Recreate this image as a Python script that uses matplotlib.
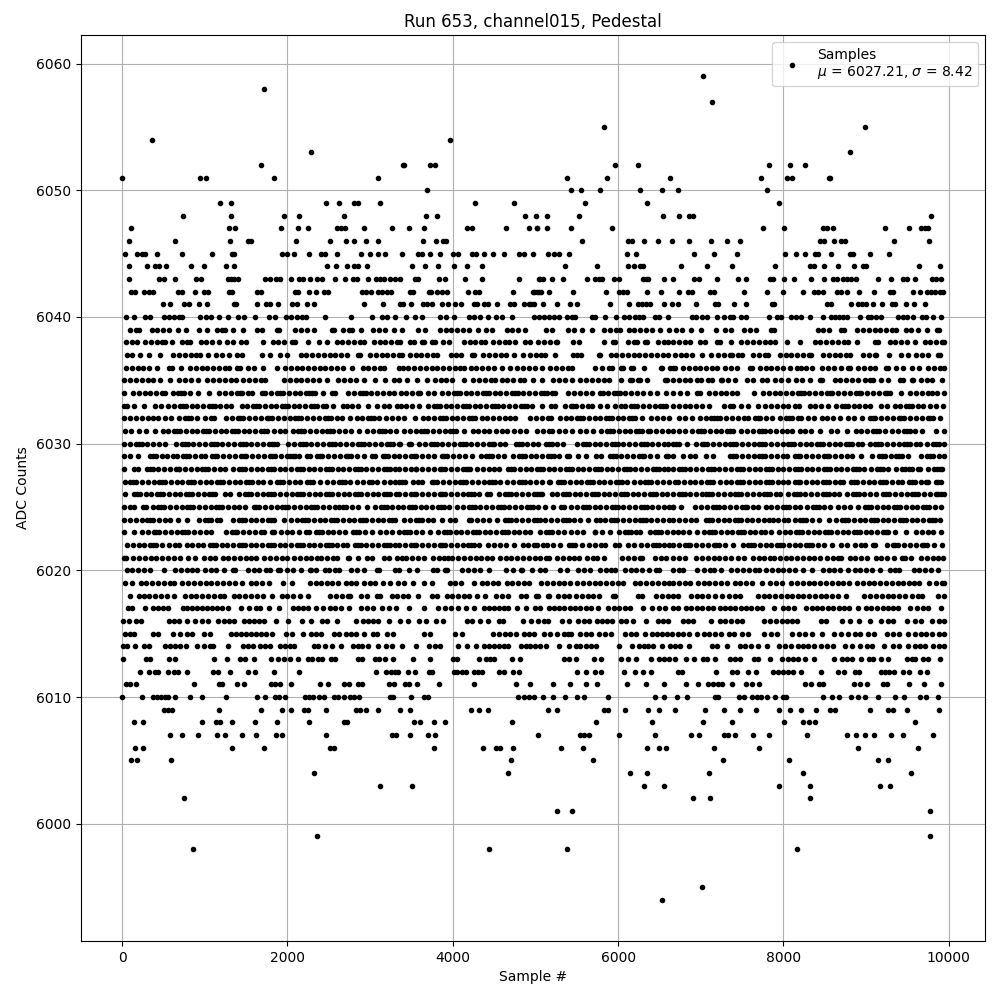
import matplotlib
matplotlib.use("Agg")
import matplotlib.pyplot as plt

# Sample numbers, one list per ADC level
s5994 = [6527]
s5995 = [7010]
s5998 = [862, 4441, 5380, 8169]
s5999 = [2361, 9775]
s6001 = [5260, 5441, 9775]
s6002 = [753, 6901, 7107, 8326]
s6003 = [3123, 3510, 6310, 6551, 7952, 8326, 9171, 9292]
s6004 = [2325, 4670, 6141, 6346, 7095, 8241, 9545]
s6005 = [113, 185, 596, 4707, 5694, 7264, 8072, 9147, 9268]
s6006 = [161, 258, 1334, 1721, 2518, 2567, 3776, 4360, 4525, 4574, 4731, 5308, 5573, 6346, 6491, 6575, 7155, 7710, 8905, 9630]
s6007 = [584, 729, 923, 1152, 1249, 1455, 1624, 1866, 1938, 2470, 3268, 3316, 3486, 3703, 3788, 5033, 5537, 5586, 5646, 6008, 6443, 6877, 6974, 7276, 7324, 7420, 7626, 7831, 8290, 8773, 8881, 8990, 9098, 9304, 9449, 9811]
s6008 = [149, 258, 971, 1140, 1189, 1334, 1612, 1878, 2265, 2688, 2720, 3534, 3607, 3776, 3909, 4719, 5730, 6406, 7022, 7372, 8012, 8241, 8314, 8386, 9593]
s6009 = [511, 560, 608, 1176, 1684, 1938, 2047, 2204, 2252, 2470, 2833, 2881, 2954, 3091, 3365, 3486, 4223, 4320, 4429, 5151, 5260, 5827, 5875, 6080, 6358, 6491, 6684, 7046, 7276, 7469, 7674, 7952, 8084, 8217, 8398, 8567, 8628, 9050, 9268, 9328, 9497, 9883]
s6010 = [0, 246, 379, 427, 475, 524, 560, 644, 818, 971, 1261, 1636, 1733, 1853, 1902, 1974, 2216, 2265, 2313, 2386, 2446, 2567, 2615, 2688, 2760, 2809, 2869, 3244, 3280, 3498, 3655, 3703, 4791, 4864, 4924, 4985, 5090, 5211, 5356, 5501, 5586, 5875, 6443, 6551, 6708, 6829, 7167, 7203, 7457, 7517, 7614, 7678, 7734, 7807, 7903, 8000, 8036, 8483, 8591, 8676, 8821, 8905, 8990, 9147, 9352, 9461, 9654, 9730, 9871]
s6011 = [52, 100, 173, 874, 1176, 1213, 1394, 1479, 1805, 1853, 1914, 2047, 2398, 2494, 2688, 2748, 2857, 2905, 3232, 3292, 3425, 3474, 3570, 3836, 4259, 4767, 4936, 5211, 5416, 5610, 5742, 6105, 6334, 6551, 6817, 6962, 7082, 7143, 7203, 7251, 7372, 7541, 7614, 7710, 8266, 8338, 8435, 8483, 8857, 8929, 9014, 9207, 9256, 9521, 9702, 9907]
s6012 = [217, 322, 403, 439, 560, 632, 681, 790, 1104, 1164, 1309, 1527, 1612, 1841, 2144, 3075, 3195, 3256, 3304, 3341, 3461, 3546, 3715, 3752, 4018, 4050, 4114, 4163, 4259, 4308, 4356, 4562, 4622, 4731, 4803, 5501, 5610, 5718, 5791, 6068, 6201, 6298, 6394, 6720, 6769, 7179, 7372, 7433, 7577, 7662, 7879, 7940, 8000, 8060, 8121, 8217, 8459, 8664, 8736, 8869, 8917, 9183, 9231, 9280, 9340, 9449, 9521, 9654, 9738]
s6013 = [16, 294, 342, 572, 644, 1116, 1273, 1430, 1491, 1600, 1805, 1890, 1962, 2035, 2132, 2252, 2301, 2373, 2422, 2531, 2579, 2857, 2905, 3063, 3111, 3183, 3280, 3522, 3727, 4005, 4050, 4320, 4404, 4453, 4501, 4719, 4815, 5344, 5404, 5485, 5706, 5791, 6032, 6117, 6213, 6394, 6491, 6551, 6612, 6684, 6817, 6913, 7022, 7070, 7167, 7348, 7416, 7477, 7646, 7698, 7843, 7980, 8060, 8121, 8181, 8266, 8374, 8616, 8712, 8773, 8833, 8941, 9038, 9086, 9183, 9268, 9489, 9549, 9593, 9690, 9750, 9895]
s6014 = [8, 60, 161, 270, 330, 524, 580, 640, 700, 770, 910, 995, 1060, 1095, 1281, 1459, 1520, 1580, 1672, 1733, 1793, 1914, 1975, 2030, 2083, 2325, 2373, 2458, 2543, 2651, 2797, 2850, 2905, 2978, 3099, 3195, 3270, 3389, 3558, 3715, 3780, 3840, 4062, 4175, 4284, 4380, 4440, 4500, 4560, 4620, 4670, 4823, 4880, 4940, 5000, 5060, 5130, 5284, 5404, 5485, 5545, 5610, 5670, 5730, 6012, 6165, 6249, 6310, 6358, 6418, 6527, 6624, 6690, 6750, 6853, 7131, 7200, 7320, 7477, 7540, 7610, 7690, 7807, 7952, 8020, 8090, 8170, 8240, 8302, 8370, 8450, 8523, 8600, 8748, 8830, 8930, 9014, 9070, 9219, 9328, 9400, 9505, 9589, 9654, 9718, 9815, 9880, 9940]
s6015 = [40, 90, 145, 370, 430, 620, 705, 782, 840, 995, 1060, 1318, 1380, 1440, 1500, 1560, 1620, 1680, 1740, 1810, 1982, 2050, 2192, 2285, 2350, 2410, 2567, 2625, 2708, 2770, 2830, 2921, 3030, 3087, 3204, 3280, 3655, 3727, 4030, 4114, 4489, 4560, 4634, 4695, 4767, 4864, 4925, 4985, 5100, 5180, 5260, 5340, 5395, 5430, 5545, 5610, 5670, 5770, 5840, 5910, 6089, 6150, 6220, 6320, 6410, 6470, 6530, 6590, 6650, 6720, 6790, 6860, 6950, 7035, 7100, 7170, 7250, 7336, 7400, 7497, 7575, 7760, 7850, 7920, 8100, 8185, 8266, 8340, 8470, 8612, 8700, 8780, 8860, 8930, 9020, 9100, 9250, 9330, 9400, 9510, 9590, 9660, 9720, 9800, 9880, 9941]
s6016 = [16, 88, 169, 230, 572, 630, 690, 790, 882, 971, 1043, 1164, 1230, 1297, 1358, 1479, 1540, 1600, 1660, 1720, 1866, 2011, 2180, 2289, 2414, 2478, 2603, 2829, 2910, 2970, 3030, 3091, 3232, 3365, 3461, 3595, 3679, 3800, 3885, 4175, 4235, 4332, 4429, 4562, 4611, 4852, 4945, 5033, 5100, 5150, 5320, 5400, 5520, 5590, 5650, 5750, 5810, 5870, 5930, 6030, 6090, 6180, 6340, 6480, 6540, 6600, 6780, 6850, 6910, 7120, 7230, 7290, 7360, 7440, 7500, 7770, 7840, 7910, 7980, 8040, 8100, 8160, 8460, 8520, 8710, 8810, 8910, 9050, 9180, 9260, 9320, 9500, 9590, 9660, 9800, 9880, 9940]
s6017 = [68, 120, 282, 370, 439, 500, 560, 733, 790, 850, 910, 970, 1030, 1090, 1150, 1210, 1285, 1438, 1539, 1620, 1672, 1781, 1902, 2071, 2130, 2190, 2245, 2345, 2430, 2510, 2575, 2650, 2748, 2890, 2960, 3030, 3140, 3230, 3310, 3474, 3655, 3825, 3900, 3980, 4065, 4163, 4260, 4380, 4440, 4500, 4560, 4620, 4665, 4783, 4888, 4993, 5060, 5170, 5220, 5290, 5350, 5420, 5480, 5540, 5610, 5670, 5760, 5880, 5950, 6010, 6080, 6140, 6300, 6410, 6500, 6570, 6670, 6730, 6820, 6880, 6950, 7020, 7090, 7150, 7230, 7290, 7350, 7420, 7490, 7550, 7610, 7680, 7740, 7880, 8000, 8060, 8130, 8270, 8340, 8400, 8470, 8540, 8600, 8670, 8730, 8790, 8900, 9000, 9060, 9130, 9200, 9260, 9320, 9390, 9530, 9620, 9690, 9750, 9900]
s6018 = [100, 200, 265, 330, 400, 470, 540, 633, 760, 830, 900, 970, 1040, 1110, 1180, 1230, 1355, 1420, 1490, 1560, 1630, 1700, 1810, 1930, 2000, 2070, 2150, 2253, 2520, 2590, 2660, 2730, 2760, 2885, 2960, 3080, 3120, 3260, 3330, 3400, 3453, 3582, 3750, 3810, 3925, 3990, 4060, 4130, 4200, 4290, 4393, 4520, 4590, 4670, 4830, 4880, 5010, 5030, 5150, 5160, 5275, 5340, 5400, 5495, 5560, 5630, 5700, 5765, 5940, 5965, 6240, 6290, 6460, 6530, 6600, 6665, 6730, 6885, 6950, 7020, 7090, 7170, 7260, 7340, 7410, 7480, 7690, 7760, 7830, 7900, 7970, 8040, 8100, 8175, 8240, 8310, 8380, 8450, 8520, 8590, 8665, 8753, 8980, 9050, 9120, 9190, 9260, 9330, 9400, 9470, 9550, 9625, 9675, 9870, 9940]
s6019 = [30, 120, 225, 295, 365, 435, 505, 575, 630, 730, 800, 870, 940, 1010, 1080, 1150, 1220, 1290, 1360, 1450, 1555, 1625, 1695, 1775, 1950, 2055, 2270, 2340, 2410, 2480, 2540, 2610, 2705, 2775, 2825, 2925, 2995, 3065, 3155, 3245, 3340, 3405, 3520, 3650, 3744, 3965, 4030, 4100, 4251, 4350, 4420, 4490, 4550, 4650, 4720, 4790, 4860, 4920, 5070, 5140, 5210, 5280, 5350, 5420, 5505, 5575, 5645, 5715, 5785, 5855, 5925, 5995, 6065, 6200, 6270, 6340, 6410, 6480, 6550, 6610, 6665, 6735, 6805, 6870, 6965, 7035, 7105, 7175, 7245, 7315, 7410, 7480, 7550, 7620, 7740, 7840, 7910, 7980, 8095, 8165, 8235, 8305, 8375, 8445, 8515, 8585, 8655, 8725, 8790, 8890, 8960, 9030, 9100, 9170, 9240, 9310, 9380, 9450, 9515, 9585, 9635, 9760, 9850, 9920, 9940]
s6020 = [60, 125, 195, 265, 335, 512, 640, 710, 780, 850, 910, 1000, 1070, 1140, 1230, 1345, 1365, 1525, 1595, 1655, 1745, 1795, 1890, 1915, 1995, 2065, 2160, 2270, 2280, 2345, 2450, 2500, 2570, 2620, 2775, 2845, 2925, 3080, 3105, 3300, 3350, 3475, 3570, 3755, 3810, 3905, 3930, 4115, 4185, 4255, 4325, 4435, 4642, 4723, 4820, 4840, 4953, 5050, 5120, 5295, 5380, 5515, 5585, 5665, 5780, 5850, 5920, 5965, 6080, 6150, 6220, 6290, 6370, 6460, 6490, 6665, 6735, 6790, 6951, 7045, 7115, 7155, 7241, 7370, 7440, 7510, 7580, 7650, 7700, 7790, 7860, 7930, 8000, 8070, 8140, 8235, 8345, 8475, 8545, 8615, 8685, 8785, 8860, 8930, 9000, 9070, 9168, 9285, 9350, 9400, 9575, 9645, 9715, 9785, 9875]
s6021 = [20, 50, 135, 205, 275, 345, 415, 485, 555, 625, 695, 800, 880, 990, 1060, 1120, 1215, 1285, 1355, 1425, 1495, 1565, 1615, 1720, 1790, 1860, 1930, 2000, 2080, 2150, 2220, 2290, 2360, 2406, 2478, 2547, 2599, 2735, 2745, 2857, 2965, 3025, 3165, 3230, 3320, 3390, 3440, 3510, 3580, 3650, 3755, 3830, 3897, 3937, 3995, 4065, 4135, 4205, 4275, 4345, 4415, 4470, 4570, 4640, 4710, 4780, 4850, 4920, 4990, 5060, 5130, 5160, 5260, 5330, 5400, 5470, 5525, 5625, 5695, 5745, 5831, 6050, 6120, 6190, 6260, 6295, 6445, 6515, 6585, 6665, 6735, 6815, 6945, 7015, 7085, 7155, 7225, 7295, 7365, 7455, 7524, 7630, 7700, 7770, 7840, 7885, 7955, 8025, 8095, 8165, 8235, 8305, 8375, 8445, 8525, 8595, 8665, 8700, 8800, 8870, 8940, 9010, 9115, 9185, 9255, 9335, 9435, 9475, 9539, 9665, 9735, 9805, 9875, 9935]
s6022 = [65, 135, 205, 265, 340, 410, 480, 565, 640, 690, 780, 850, 920, 980, 1065, 1135, 1205, 1275, 1345, 1415, 1485, 1555, 1625, 1695, 1765, 1835, 1905, 1975, 2045, 2115, 2185, 2255, 2325, 2395, 2465, 2535, 2605, 2675, 2725, 2815, 2885, 2955, 3025, 3095, 3165, 3235, 3305, 3350, 3420, 3490, 3560, 3630, 3700, 3770, 3840, 3910, 3980, 4050, 4120, 4190, 4260, 4315, 4430, 4500, 4570, 4640, 4735, 4845, 4915, 4985, 5020, 5095, 5140, 5215, 5300, 5410, 5480, 5560, 5650, 5720, 5790, 5845, 5960, 6010, 6120, 6190, 6280, 6350, 6420, 6490, 6560, 6615, 6665, 6735, 6805, 6875, 6945, 7015, 7085, 7155, 7225, 7295, 7395, 7505, 7575, 7645, 7715, 7785, 7855, 7925, 7995, 8065, 8135, 8205, 8275, 8345, 8415, 8485, 8585, 8700, 8770, 8860, 8940, 8990, 9085, 9105, 9250, 9320, 9390, 9460, 9530, 9600, 9670, 9735, 9825, 9921]
s6023 = [20, 145, 240, 310, 380, 450, 520, 590, 660, 730, 800, 870, 940, 1010, 1070, 1255, 1325, 1395, 1465, 1535, 1605, 1675, 1715, 1810, 1840, 1920, 1990, 2060, 2140, 2230, 2260, 2345, 2415, 2485, 2555, 2625, 2700, 2795, 2865, 2935, 3025, 3120, 3190, 3260, 3345, 3415, 3485, 3555, 3625, 3730, 3825, 3895, 3965, 4035, 4105, 4175, 4245, 4315, 4385, 4455, 4525, 4595, 4665, 4735, 4805, 4875, 4940, 5060, 5130, 5200, 5270, 5340, 5435, 5505, 5570, 5715, 5725, 5810, 5905, 6010, 6080, 6150, 6220, 6270, 6380, 6450, 6520, 6590, 6660, 6720, 6790, 6860, 6955, 7035, 7105, 7175, 7245, 7315, 7380, 7450, 7520, 7590, 7660, 7730, 7780, 7846, 7945, 8015, 8085, 8155, 8225, 8295, 8365, 8435, 8505, 8575, 8645, 8715, 8785, 8855, 8925, 8995, 9065, 9135, 9205, 9270, 9355, 9480, 9605, 9675, 9745, 9815, 9905]
s6024 = [25, 95, 165, 235, 305, 375, 445, 515, 585, 681, 786, 935, 1005, 1075, 1145, 1190, 1345, 1415, 1485, 1555, 1625, 1695, 1765, 1835, 1955, 2043, 2110, 2180, 2250, 2320, 2390, 2460, 2530, 2600, 2670, 2740, 2810, 2880, 2950, 3020, 3090, 3160, 3230, 3300, 3415, 3485, 3555, 3625, 3695, 3765, 3870, 3970, 4030, 4195, 4215, 4295, 4365, 4435, 4535, 4630, 4700, 4770, 4840, 4910, 4980, 5050, 5120, 5190, 5260, 5330, 5400, 5470, 5540, 5640, 5730, 5785, 5840, 5920, 5990, 6060, 6130, 6200, 6270, 6335, 6400, 6470, 6540, 6610, 6670, 6740, 6810, 6880, 6940, 7065, 7135, 7205, 7275, 7345, 7415, 7485, 7555, 7625, 7695, 7765, 7820, 7870, 7940, 8010, 8055, 8135, 8205, 8275, 8345, 8430, 8551, 8640, 8710, 8780, 8850, 8920, 8990, 9060, 9130, 9200, 9270, 9340, 9410, 9480, 9550, 9620, 9690, 9760, 9830, 9895]
s6025 = [25, 95, 140, 250, 285, 370, 440, 510, 580, 650, 720, 790, 860, 930, 1000, 1070, 1140, 1210, 1280, 1350, 1420, 1490, 1590, 1660, 1730, 1800, 1870, 1940, 2010, 2080, 2150, 2220, 2290, 2360, 2430, 2500, 2570, 2620, 2710, 2780, 2850, 2960, 3060, 3130, 3200, 3270, 3340, 3400, 3470, 3540, 3610, 3680, 3750, 3820, 3890, 3950, 4055, 4125, 4195, 4265, 4335, 4405, 4475, 4545, 4615, 4685, 4755, 4825, 4895, 4965, 5035, 5120, 5215, 5315, 5340, 5435, 5505, 5575, 5645, 5715, 5785, 5855, 5925, 5995, 6065, 6135, 6205, 6275, 6345, 6415, 6485, 6555, 6615, 6670, 6765, 6925, 7005, 7075, 7145, 7215, 7285, 7355, 7425, 7495, 7565, 7635, 7695, 7785, 7855, 7925, 7995, 8065, 8135, 8205, 8280, 8355, 8425, 8495, 8565, 8665, 8735, 8805, 8905, 8990, 9060, 9130, 9200, 9270, 9340, 9410, 9480, 9550, 9620, 9690, 9760, 9830, 9900]
s6026 = [30, 145, 215, 285, 355, 425, 495, 565, 635, 705, 775, 845, 915, 985, 1055, 1125, 1245, 1310, 1420, 1490, 1560, 1630, 1700, 1770, 1840, 1910, 1980, 2050, 2120, 2190, 2260, 2330, 2400, 2470, 2540, 2610, 2680, 2750, 2820, 2890, 2960, 3030, 3100, 3170, 3240, 3310, 3350, 3420, 3490, 3560, 3630, 3700, 3770, 3840, 3910, 3980, 4050, 4120, 4190, 4260, 4320, 4415, 4455, 4560, 4630, 4700, 4770, 4840, 4910, 4980, 5050, 5085, 5195, 5265, 5335, 5405, 5475, 5545, 5615, 5685, 5755, 5825, 5895, 5965, 6035, 6105, 6175, 6245, 6315, 6385, 6455, 6525, 6595, 6665, 6735, 6805, 6875, 6945, 7015, 7060, 7140, 7210, 7280, 7350, 7420, 7490, 7560, 7630, 7700, 7770, 7840, 7910, 7960, 8055, 8125, 8195, 8265, 8335, 8405, 8475, 8545, 8615, 8670, 8770, 8840, 8910, 8980, 9050, 9115, 9210, 9280, 9350, 9420, 9490, 9560, 9630, 9700, 9770, 9840, 9910, 9940]
s6027 = [30, 100, 170, 240, 310, 380, 450, 520, 590, 660, 730, 800, 870, 940, 1010, 1080, 1150, 1220, 1290, 1360, 1430, 1500, 1570, 1640, 1710, 1790, 1878, 1948, 2018, 2088, 2155, 2240, 2310, 2395, 2482, 2552, 2622, 2692, 2760, 2845, 2915, 2985, 3080, 3167, 3237, 3307, 3350, 3425, 3514, 3584, 3625, 3743, 3813, 3883, 3953, 4023, 4093, 4163, 4233, 4303, 4373, 4443, 4513, 4575, 4658, 4728, 4798, 4868, 4938, 5008, 5078, 5166, 5180, 5275, 5345, 5415, 5485, 5555, 5625, 5695, 5765, 5835, 5905, 5975, 6045, 6105, 6190, 6260, 6330, 6400, 6470, 6540, 6610, 6690, 6795, 6865, 6935, 7005, 7075, 7150, 7230, 7300, 7370, 7440, 7510, 7580, 7650, 7720, 7790, 7860, 7930, 8000, 8060, 8136, 8206, 8276, 8346, 8400, 8478, 8548, 8618, 8688, 8725, 8820, 8890, 8960, 9030, 9100, 9170, 9240, 9310, 9390, 9438, 9518, 9588, 9658, 9728, 9752, 9840, 9910]
s6028 = [20, 140, 197, 298, 368, 438, 508, 578, 648, 685, 761, 831, 901, 971, 1041, 1111, 1181, 1250, 1346, 1416, 1486, 1556, 1626, 1696, 1766, 1836, 1906, 1976, 2046, 2116, 2186, 2256, 2326, 2396, 2466, 2536, 2606, 2676, 2746, 2816, 2886, 2956, 3026, 3096, 3166, 3236, 3306, 3350, 3420, 3490, 3560, 3630, 3700, 3770, 3840, 3910, 3980, 4050, 4120, 4190, 4211, 4296, 4366, 4436, 4500, 4554, 4670, 4740, 4810, 4880, 4950, 5020, 5090, 5160, 5230, 5300, 5370, 5440, 5510, 5580, 5650, 5720, 5790, 5860, 5930, 6000, 6070, 6140, 6210, 6280, 6350, 6420, 6490, 6560, 6608, 6665, 6735, 6805, 6875, 6945, 7015, 7085, 7155, 7225, 7294, 7370, 7440, 7510, 7580, 7650, 7720, 7790, 7860, 7930, 8000, 8070, 8140, 8210, 8280, 8350, 8420, 8490, 8560, 8630, 8700, 8770, 8840, 8910, 8972, 9063, 9133, 9203, 9269, 9365, 9435, 9470, 9558, 9628, 9652, 9748, 9818, 9888, 9913]
s6029 = [20, 100, 194, 338, 408, 478, 548, 618, 665, 741, 811, 881, 951, 1008, 1084, 1154, 1224, 1294, 1364, 1434, 1504, 1574, 1644, 1714, 1784, 1854, 1924, 1994, 2064, 2096, 2144, 2232, 2277, 2353, 2423, 2493, 2563, 2633, 2703, 2773, 2843, 2922, 3018, 3063, 3151, 3221, 3291, 3350, 3420, 3490, 3560, 3630, 3700, 3768, 3864, 3934, 4004, 4074, 4144, 4232, 4336, 4406, 4476, 4546, 4614, 4731, 4801, 4871, 4941, 5011, 5081, 5151, 5221, 5279, 5376, 5408, 5509, 5617, 5731, 5791, 5899, 5969, 6039, 6109, 6179, 6249, 6319, 6389, 6468, 6577, 6608, 6665, 6790, 6875, 6931, 7060, 7153, 7358, 7428, 7498, 7568, 7638, 7708, 7778, 7848, 7918, 7999, 8047, 8136, 8206, 8276, 8346, 8416, 8486, 8556, 8626, 8696, 8766, 8825, 8942, 9067, 9155, 9225, 9295, 9365, 9435, 9511, 9667, 9737, 9807, 9877, 9940]
s6030 = [25, 95, 165, 235, 305, 375, 445, 516, 653, 723, 793, 863, 933, 1003, 1073, 1143, 1213, 1283, 1353, 1423, 1493, 1563, 1633, 1703, 1773, 1843, 1874, 2011, 2081, 2151, 2221, 2291, 2361, 2431, 2501, 2571, 2641, 2711, 2781, 2851, 2921, 2991, 3061, 3131, 3201, 3271, 3350, 3365, 3473, 3498, 3594, 3664, 3734, 3804, 3874, 3944, 4014, 4084, 4154, 4224, 4294, 4364, 4434, 4504, 4574, 4634, 4763, 4833, 4903, 4973, 5029, 5126, 5196, 5266, 5328, 5505, 5575, 5645, 5715, 5785, 5855, 5925, 5995, 6065, 6135, 6205, 6275, 6345, 6415, 6485, 6555, 6608, 6665, 6735, 6831, 6939, 7009, 7079, 7149, 7219, 7289, 7359, 7429, 7499, 7569, 7639, 7709, 7779, 7849, 7919, 7989, 8059, 8129, 8199, 8269, 8339, 8409, 8479, 8549, 8619, 8689, 8759, 8829, 8899, 8946, 9043, 9113, 9183, 9253, 9323, 9393, 9463, 9533, 9603, 9652, 9736, 9806, 9876, 9940]
s6031 = [36, 105, 210, 290, 403, 491, 561, 631, 701, 771, 841, 911, 981, 1051, 1121, 1191, 1261, 1331, 1401, 1471, 1541, 1611, 1681, 1751, 1834, 1910, 1967, 2063, 2133, 2203, 2273, 2343, 2413, 2483, 2553, 2623, 2693, 2763, 2861, 2966, 3036, 3106, 3176, 3246, 3316, 3410, 3480, 3550, 3620, 3690, 3760, 3830, 3900, 3970, 4040, 4131, 4239, 4309, 4379, 4433, 4521, 4591, 4655, 4739, 4809, 4884, 5021, 5091, 5161, 5199, 5287, 5357, 5441, 5537, 5607, 5702, 5799, 5869, 5939, 6009, 6079, 6149, 6219, 6289, 6359, 6388, 6464, 6534, 6608, 6665, 6735, 6811, 6899, 6969, 7039, 7109, 7179, 7249, 7319, 7395, 7491, 7561, 7631, 7701, 7771, 7841, 7911, 7979, 8047, 8108, 8196, 8266, 8336, 8443, 8579, 8649, 8765, 8873, 8943, 9013, 9083, 9153, 9229, 9317, 9387, 9457, 9527, 9597, 9672, 9849, 9940]
s6032 = [28, 98, 168, 238, 308, 378, 435, 520, 597, 693, 763, 833, 903, 1000, 1072, 1108, 1257, 1327, 1397, 1467, 1537, 1607, 1677, 1747, 1817, 1887, 1957, 2027, 2097, 2167, 2237, 2307, 2378, 2454, 2524, 2594, 2664, 2761, 2837, 2907, 2977, 3047, 3103, 3191, 3264, 3333, 3409, 3546, 3635, 3705, 3775, 3845, 3915, 3985, 4055, 4125, 4195, 4272, 4348, 4418, 4488, 4558, 4628, 4698, 4747, 4940, 5010, 5078, 5146, 5187, 5295, 5365, 5435, 5505, 5575, 5645, 5715, 5785, 5855, 5925, 5995, 6065, 6135, 6205, 6287, 6403, 6473, 6543, 6613, 6738, 6808, 6891, 6988, 7058, 7128, 7198, 7234, 7310, 7380, 7450, 7520, 7576, 7652, 7722, 7792, 7862, 7959, 8035, 8105, 8175, 8213, 8297, 8367, 8463, 8531, 8600, 8684, 8781, 8851, 8946, 9043, 9113, 9183, 9253, 9323, 9393, 9463, 9533, 9603, 9673, 9743, 9813, 9893]
s6033 = [28, 61, 145, 262, 399, 476, 560, 630, 700, 770, 840, 910, 980, 1050, 1120, 1190, 1260, 1322, 1446, 1516, 1586, 1656, 1726, 1796, 1866, 1936, 2006, 2076, 2146, 2216, 2286, 2356, 2426, 2466, 2547, 2668, 2720, 2776, 2857, 2978, 3083, 3167, 3224, 3320, 3370, 3440, 3510, 3587, 3703, 3773, 3843, 3913, 3983, 4053, 4123, 4193, 4263, 4333, 4403, 4473, 4543, 4613, 4683, 4753, 4823, 4893, 4963, 5078, 5194, 5239, 5355, 5425, 5495, 5565, 5635, 5682, 5779, 5864, 5960, 6030, 6085, 6161, 6231, 6301, 6371, 6441, 6511, 6581, 6665, 6735, 6805, 6875, 6945, 7012, 7100, 7278, 7348, 7395, 7491, 7576, 7693, 7778, 7854, 7924, 7994, 8060, 8136, 8188, 8317, 8387, 8457, 8543, 8639, 8709, 8779, 8849, 8919, 8989, 9047, 9184, 9249, 9345, 9415, 9485, 9555, 9625, 9692, 9772, 9840, 9933]
s6034 = [20, 129, 199, 282, 342, 411, 481, 524, 612, 682, 752, 822, 919, 1056, 1176, 1246, 1316, 1386, 1456, 1526, 1572, 1688, 1733, 1801, 1878, 1948, 2018, 2088, 2158, 2228, 2298, 2338, 2426, 2535, 2579, 2736, 2806, 2876, 2946, 3016, 3086, 3156, 3226, 3284, 3370, 3440, 3510, 3580, 3607, 3703, 3773, 3869, 3945, 4015, 4085, 4155, 4225, 4295, 4365, 4435, 4505, 4575, 4645, 4715, 4785, 4855, 4925, 4995, 5065, 5135, 5205, 5239, 5396, 5466, 5536, 5606, 5682, 5779, 5823, 5879, 5949, 6019, 6089, 6159, 6229, 6299, 6388, 6476, 6585, 6665, 6746, 6831, 6955, 6992, 7100, 7170, 7240, 7310, 7380, 7436, 7649, 7753, 7823, 7893, 7963, 8033, 8103, 8173, 8243, 8313, 8383, 8453, 8523, 8593, 8663, 8733, 8803, 8873, 8943, 9013, 9083, 9153, 9223, 9289, 9418, 9534, 9604, 9674, 9744, 9793, 9861, 9940]
s6035 = [28, 98, 168, 238, 308, 378, 464, 580, 693, 763, 833, 919, 1031, 1101, 1171, 1241, 1322, 1378, 1467, 1537, 1607, 1677, 1725, 1958, 2028, 2098, 2168, 2238, 2308, 2378, 2478, 2615, 2685, 2755, 2825, 2922, 3058, 3184, 3284, 3353, 3446, 3562, 3687, 3784, 3854, 3924, 3994, 4131, 4247, 4317, 4387, 4457, 4514, 4590, 4660, 4730, 4816, 4864, 4973, 5078, 5215, 5285, 5360, 5448, 5545, 5615, 5685, 5755, 5825, 5884, 6033, 6149, 6166, 6242, 6267, 6355, 6564, 6589, 6665, 6735, 6805, 6871, 6955, 7000, 7088, 7133, 7249, 7254, 7330, 7415, 7560, 7630, 7737, 7806, 7902, 7972, 8060, 8148, 8221, 8321, 8438, 8463, 8620, 8690, 8760, 8830, 8906, 8982, 9052, 9087, 9184, 9269, 9406, 9450, 9558, 9571, 9668, 9738, 9793, 9921]
s6036 = [48, 118, 188, 258, 328, 422, 572, 605, 713, 822, 892, 962, 1032, 1102, 1172, 1242, 1290, 1386, 1431, 1527, 1592, 1700, 1874, 1970, 2040, 2110, 2180, 2250, 2320, 2390, 2460, 2530, 2600, 2670, 2781, 2909, 2979, 3049, 3119, 3164, 3353, 3393, 3463, 3533, 3603, 3673, 3743, 3813, 3883, 3953, 4023, 4093, 4131, 4215, 4285, 4355, 4425, 4495, 4594, 4695, 4779, 4849, 4919, 4989, 5078, 5182, 5252, 5322, 5392, 5441, 5718, 5803, 5891, 5924, 6040, 6065, 6161, 6186, 6315, 6524, 6529, 6625, 6665, 6689, 6786, 6856, 6926, 6996, 7066, 7136, 7193, 7290, 7360, 7435, 7600, 7617, 7713, 7783, 7853, 7923, 7993, 8080, 8160, 8209, 8277, 8342, 8470, 8540, 8610, 8697, 8781, 8805, 8902, 8972, 9042, 9108, 9244, 9269, 9357, 9446, 9551, 9639, 9748, 9818, 9888, 9940]
s6037 = [56, 122, 218, 322, 463, 620, 690, 760, 830, 900, 947, 1035, 1136, 1206, 1290, 1386, 1451, 1688, 1794, 1910, 1995, 2160, 2230, 2300, 2370, 2440, 2510, 2580, 2650, 2720, 2857, 2882, 2998, 3068, 3138, 3208, 3278, 3348, 3385, 3481, 3551, 3621, 3691, 3761, 3808, 3973, 4043, 4102, 4227, 4252, 4368, 4438, 4508, 4578, 4648, 4735, 4844, 4932, 5002, 5072, 5118, 5235, 5456, 5501, 5557, 5771, 5783, 5908, 5978, 6048, 6118, 6188, 6258, 6328, 6398, 6468, 6538, 6608, 6685, 6755, 6825, 6895, 7012, 7120, 7209, 7279, 7349, 7375, 7451, 7504, 7632, 7702, 7772, 7810, 7955, 8025, 8095, 8165, 8235, 8305, 8334, 8478, 8548, 8618, 8688, 8758, 8805, 8962, 9032, 9102, 9116, 9277, 9425, 9511, 9607, 9677, 9752, 9869, 9893]
s6038 = [48, 118, 182, 278, 348, 418, 488, 522, 604, 721, 791, 826, 951, 1021, 1091, 1169, 1273, 1338, 1434, 1503, 1700, 1821, 1891, 1959, 2051, 2096, 2245, 2381, 2478, 2595, 2665, 2735, 2805, 2875, 2922, 3046, 3116, 3186, 3256, 3326, 3365, 3481, 3526, 3623, 3647, 3743, 3780, 3884, 3949, 4134, 4204, 4274, 4344, 4392, 4489, 4559, 4629, 4675, 4755, 4872, 4937, 5033, 5103, 5173, 5243, 5259, 5456, 5521, 5831, 5940, 5964, 6121, 6191, 6226, 6323, 6347, 6484, 6554, 6608, 6665, 6735, 6805, 6872, 6988, 7052, 7201, 7234, 7362, 7491, 7561, 7631, 7701, 7771, 7841, 7899, 8047, 8200, 8378, 8448, 8518, 8588, 8658, 8728, 8785, 8894, 9103, 9148, 9285, 9355, 9425, 9495, 9592, 9708, 9778, 9848, 9918, 9940]
s6039 = [96, 166, 202, 358, 428, 498, 564, 681, 777, 935, 1031, 1144, 1214, 1249, 1346, 1466, 1628, 1692, 1869, 1894, 2091, 2161, 2231, 2317, 2534, 2559, 2675, 2745, 2781, 2889, 3038, 3108, 3184, 3292, 3381, 3574, 3667, 3844, 3914, 3984, 4054, 4124, 4191, 4308, 4408, 4473, 4650, 4720, 4790, 4876, 5131, 5195, 5392, 5462, 5558, 5682, 5835, 5905, 5975, 6020, 6128, 6198, 6268, 6338, 6408, 6503, 6612, 6700, 6770, 6885, 6998, 7179, 7288, 7360, 7517, 7590, 7662, 7847, 7891, 8414, 8484, 8555, 8692, 8737, 8893, 8963, 9033, 9103, 9173, 9243, 9313, 9360, 9477, 9547, 9622, 9738, 9859, 9883]
s6040 = [52, 149, 282, 342, 511, 572, 632, 693, 729, 947, 1019, 1080, 1176, 1285, 1406, 1479, 1612, 1781, 1853, 1987, 2047, 2119, 2180, 2228, 2458, 2772, 3026, 3147, 3207, 3304, 3437, 3546, 3631, 3848, 3921, 4018, 4199, 4259, 4332, 4429, 4525, 4598, 4719, 4982, 5042, 5102, 5163, 5223, 5284, 5384, 5445, 5477, 5682, 5718, 5839, 5972, 6068, 6129, 6201, 6249, 6298, 6443, 6491, 6600, 6889, 6938, 7010, 7070, 7191, 7276, 7348, 7384, 7481, 7541, 7831, 7928, 7976, 8097, 8157, 8217, 8326, 8483, 8579, 8628, 8676, 8724, 8773, 8929, 9026, 9062, 9123, 9183, 9388, 9441, 9497, 9569, 9678, 9730, 9811, 9907]
s6041 = [499, 584, 753, 814, 935, 1031, 1358, 1382, 1636, 1745, 1793, 1890, 2059, 2119, 2240, 2325, 2930, 3159, 3365, 3401, 3498, 3643, 3691, 3752, 3872, 3945, 4030, 4102, 4259, 4296, 4380, 4429, 4537, 4694, 4743, 4864, 4924, 4942, 4985, 5090, 5260, 5416, 5501, 5899, 6129, 6237, 6286, 6334, 6382, 6551, 6648, 6720, 6938, 7167, 7203, 7396, 7553, 7867, 7891, 8531, 8579, 8821, 8905, 8953, 9002, 9087, 9195, 9316, 9352, 9485, 9581, 9714]
s6042 = [113, 161, 270, 330, 379, 681, 729, 886, 995, 1043, 1297, 1334, 1636, 1684, 2095, 2132, 2265, 2349, 2446, 2494, 2905, 2954, 3014, 3099, 3147, 3207, 3256, 3486, 3522, 3715, 3740, 3812, 3872, 3933, 4187, 4271, 4320, 4731, 4970, 4985, 5018, 5045, 5066, 5163, 5453, 5851, 6008, 6056, 6105, 6346, 6515, 6732, 6841, 6889, 7107, 7155, 7517, 7795, 8000, 8241, 8374, 8422, 8483, 8652, 8700, 8773, 8917, 9099, 9292, 9328, 9569, 9654, 9738, 9787, 9835, 9895, 9932]
s6043 = [88, 451, 511, 644, 898, 959, 1285, 1322, 1358, 1406, 1733, 1793, 1866, 1914, 2047, 2144, 2192, 2277, 2361, 2422, 2579, 2700, 2797, 2845, 2978, 3075, 3123, 3171, 3244, 3304, 3365, 3546, 3582, 3836, 3909, 4151, 4356, 4803, 5045, 5054, 5090, 5199, 5332, 5622, 5718, 5767, 5803, 5948, 6008, 6298, 6334, 6358, 6551, 6660, 6913, 6974, 7191, 7445, 7541, 7843, 7879, 8012, 8133, 8338, 8495, 8604, 8652, 8724, 8765, 8821, 8881, 9147, 9304, 9449, 9497, 9593, 9799, 9847, 9907]
s6044 = [88, 306, 403, 451, 536, 838, 995, 1261, 1358, 2482, 2591, 2720, 2809, 2857, 2966, 3510, 3667, 3824, 4018, 4175, 4356, 5356, 5742, 6117, 6189, 6262, 6298, 6757, 7070, 7372, 7903, 8326, 8374, 8495, 8664, 8857, 8966, 9002, 9642, 9895]
s6045 = [40, 185, 246, 282, 427, 729, 1092, 1334, 1358, 1938, 1999, 2083, 2265, 2410, 2458, 2603, 2893, 3002, 3099, 3183, 3389, 3582, 3631, 3727, 3848, 4005, 4066, 4235, 4284, 4380, 4489, 4618, 4803, 4864, 4973, 5151, 5223, 5284, 5404, 6105, 6213, 6913, 7155, 7433, 8024, 8157, 8266, 8386, 8422, 8579, 8809, 8845, 9050, 9280]
s6046 = [88, 644, 1309, 1527, 1563, 2107, 2518, 2712, 2809, 2954, 3099, 3643, 3800, 3885, 3921, 5561, 6117, 6165, 6310, 6479, 6648, 6853, 7119, 7312, 7469, 8447, 8495, 8616, 8700, 8748, 9340, 9762]
s6047 = [113, 1297, 1370, 1926, 2132, 2252, 2603, 2651, 2700, 2930, 3268, 3474, 3655, 4175, 4235, 4646, 4924, 5018, 5021, 5139, 5429, 5924, 7758, 8012, 8483, 8531, 8604, 9231, 9521, 9666, 9714, 9750]
s6048 = [741, 1322, 1962, 2144, 2688, 3679, 3812, 4876, 5006, 5139, 5525, 6539, 6732, 6853, 6901, 9787]
s6049 = [1189, 1322, 2470, 2627, 2809, 2857, 3123, 4271, 4743, 5598, 6346, 7952]
s6050 = [3691, 5429, 5549, 5779, 6262, 6527, 6720, 7795]
s6051 = [0, 947, 1019, 1841, 3099, 5380, 5863, 6624, 7734, 8048, 8109, 8545, 8565]
s6052 = [1684, 3395, 3410, 3727, 3788, 5960, 6237, 7831, 8084, 8266]
s6053 = [2289, 8809]
s6054 = [366, 3969]
s6055 = [5827, 8990]
s6057 = [7131]
s6058 = [1720]
s6059 = [7022]

# More samples on the levels that look solid in the reference
more6026 = [180, 460, 810, 1090, 1525, 1805, 2155, 2505, 2855, 3205, 3525, 3875, 4225, 4665, 5015, 5370, 5720, 6070, 6420, 6770, 7105, 7455, 7805, 8160, 8510, 8875, 9245, 9595, 9875]
more6027 = [135, 485, 835, 1185, 1535, 1915, 2275, 2655, 3020, 3390, 3778, 4128, 4478, 4833, 5310, 5660, 6010, 6365, 6725, 7110, 7475, 7825, 8171, 8513, 8855, 9205, 9553, 9875]
more6028 = [333, 683, 1006, 1451, 1801, 2151, 2501, 2851, 3201, 3560, 3875, 4155, 4705, 5055, 5405, 5755, 6105, 6455, 6770, 7120, 7475, 7825, 8175, 8525, 8875, 9168, 9523, 9853]
more6029 = [373, 776, 1119, 1469, 1819, 2029, 2388, 2738, 3186, 3525, 3899, 4441, 4836, 5186, 5934, 6284, 7393, 7743, 8171, 8521, 9190, 9400, 9772]
more6030 = [200, 758, 1108, 1458, 1808, 2186, 2536, 2886, 3236, 3769, 4119, 4469, 4798, 5161, 5610, 5960, 6310, 6700, 7044, 7394, 7744, 8094, 8444, 8794, 9148, 9498, 9841]
more6025 = [475, 825, 1175, 1625, 1975, 2325, 2675, 3165, 3505, 3855, 4230, 4580, 4930, 5610, 5960, 6310, 6660, 7180, 7530, 8030, 8390, 9025, 9375, 9725]
more6024 = [340, 1040, 1450, 1800, 2215, 2565, 2915, 3265, 3590, 4665, 5015, 5365, 5955, 6305, 7100, 7450, 8240, 8745, 9095, 9445, 9795]
more6023 = [415, 765, 1360, 2380, 2830, 3450, 3930, 4280, 4630, 5165, 6115, 6485, 7140, 7485, 8190, 8540, 8890, 9240]
more6022 = [375, 1100, 1450, 1800, 2150, 2500, 2850, 3200, 3525, 3875, 4225, 5445, 6455, 6840, 7190, 7610, 7960, 8310, 9355, 9705]
more6031 = [666, 1016, 1366, 1716, 2168, 2518, 3141, 3655, 4005, 5905, 6255, 7004, 7354, 7736, 9118, 9492]
more6032 = [798, 1432, 1782, 2132, 2489, 3012, 3880, 4230, 5540, 5890, 6170, 7163, 7687, 8070, 9078, 9428, 9778]
more6033 = [735, 1085, 1621, 1971, 2321, 3808, 4158, 4508, 4858, 5460, 6196, 6546, 8744, 9520]
more6034 = [717, 1421, 1913, 2263, 2911, 4050, 4400, 4750, 5100, 5984, 8208, 8558, 8908, 9258]

levels = {
    5994: s5994, 5995: s5995, 5998: s5998, 5999: s5999, 6001: s6001, 6002: s6002,
    6003: s6003, 6004: s6004, 6005: s6005, 6006: s6006, 6007: s6007, 6008: s6008,
    6009: s6009, 6010: s6010, 6011: s6011, 6012: s6012, 6013: s6013, 6014: s6014,
    6015: s6015, 6016: s6016, 6017: s6017, 6018: s6018, 6019: s6019, 6020: s6020,
    6021: s6021, 6022: s6022 + more6022, 6023: s6023 + more6023, 6024: s6024 + more6024,
    6025: s6025 + more6025, 6026: s6026 + more6026, 6027: s6027 + more6027,
    6028: s6028 + more6028, 6029: s6029 + more6029, 6030: s6030 + more6030,
    6031: s6031 + more6031, 6032: s6032 + more6032, 6033: s6033 + more6033,
    6034: s6034 + more6034, 6035: s6035, 6036: s6036, 6037: s6037, 6038: s6038,
    6039: s6039, 6040: s6040, 6041: s6041, 6042: s6042, 6043: s6043, 6044: s6044,
    6045: s6045, 6046: s6046, 6047: s6047, 6048: s6048, 6049: s6049, 6050: s6050,
    6051: s6051, 6052: s6052, 6053: s6053, 6054: s6054, 6055: s6055, 6057: s6057,
    6058: s6058, 6059: s6059,
}

x = []
y = []
for level, samples in levels.items():
    x.extend(samples)
    y.extend([level] * len(samples))

plt.figure(figsize=(10, 10))
plt.plot(x, y, 'k.', label='Samples\n$\\mu$ = 6027.21, $\\sigma$ = 8.42')
plt.title('Run 653, channel015, Pedestal')
plt.xlabel('Sample #')
plt.ylabel('ADC Counts')
plt.legend(loc='upper right')
plt.grid(True)
plt.subplots_adjust(left=0.081, right=0.985, top=0.965, bottom=0.059)
plt.savefig('out.png', dpi=100)
